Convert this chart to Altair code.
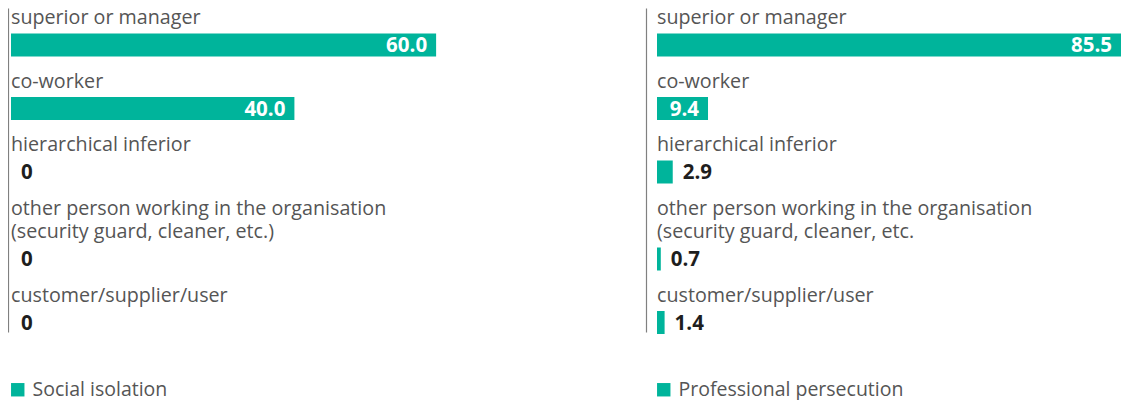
import altair as alt
import pandas as pd

# ---- data ----
series_names = ["Social isolation", "Professional persecution"]

categories_left = [
    "superior or manager",
    "co-worker",
    "hierarchical inferior",
    "other person working in the organisation\n(security guard, cleaner, etc.)",
    "customer/supplier/user",
]
values_left = [60.0, 40.0, 0.0, 0.0, 0.0]

categories_right = [
    "superior or manager",
    "co-worker",
    "hierarchical inferior",
    "other person working in the organisation\n(security guard, cleaner, etc.",
    "customer/supplier/user",
]
values_right = [85.5, 9.4, 2.9, 0.7, 1.4]

TEAL = "#00b49b"
LABEL_FONT = "Open Sans"


def panel(cats, vals, series, width, xmax, axis_offset):
    df = pd.DataFrame({"label": cats, "value": vals})
    df["order"] = range(len(df))
    df["series"] = series

    yaxis = alt.Axis(domain=True, domainColor="#808080", domainWidth=1.2,
                     labels=False, ticks=False, grid=False, title=None,
                     offset=axis_offset)
    yscale = alt.Scale(domain=[3, 327], reverse=True, nice=False, zero=False)
    xscale = alt.Scale(domain=[0, xmax], nice=False, zero=True)

    base = (
        alt.Chart(df)
        .transform_calculate(
            nlines="length(split(datum.label, '\\n'))",
            txt="datum.value == 0 ? '0' : format(datum.value, '.1f')",
            zero="0",
        )
        .transform_calculate(h="23.5 * datum.nlines + 40")
        .transform_window(cum="sum(h)", sort=[alt.SortField("order")], frame=[None, 0])
        .transform_calculate(top="datum.cum - datum.h")
        .transform_calculate(
            lab_y="datum.top + 19",
            bar_top="datum.top + 19 + 23.5 * (datum.nlines - 1) + 9.5",
        )
        .transform_calculate(
            bar_bot="datum.bar_top + 23",
            val_y="datum.bar_top + 18.5",
        )
    )

    labels = base.mark_text(
        align="left", baseline="alphabetic", dx=0, lineBreak="\n", lineHeight=23.5,
        font=LABEL_FONT, fontSize=19.7, color="#555555",
    ).encode(
        x=alt.X("zero:Q", scale=xscale, axis=None),
        y=alt.Y("lab_y:Q", scale=yscale, axis=yaxis),
        text="label:N",
    )

    bars = base.mark_bar(cornerRadius=0).encode(
        x=alt.X("value:Q", scale=xscale, axis=None),
        x2="zero:Q",
        y=alt.Y("bar_top:Q", scale=yscale, axis=yaxis),
        y2="bar_bot:Q",
        color=alt.Color(
            "series:N",
            scale=alt.Scale(range=[TEAL]),
            legend=alt.Legend(
                title=None, orient="none", legendX=-3, legendY=372,
                symbolType="square", symbolSize=180, symbolStrokeWidth=0,
                labelFont=LABEL_FONT, labelFontSize=19.5, labelColor="#555555",
                labelOffset=5, labelLimit=500, padding=0,
            ),
        ),
    )

    inside = base.transform_filter("datum.value >= 5").mark_text(
        align="right", baseline="alphabetic", dx=-9,
        font=LABEL_FONT, fontSize=20.5, fontWeight="bold", color="white",
    ).encode(
        x=alt.X("value:Q", scale=xscale, axis=None),
        y=alt.Y("val_y:Q", scale=yscale, axis=yaxis),
        text="txt:N",
    )

    outside = base.transform_filter("datum.value < 5").mark_text(
        align="left", baseline="alphabetic", dx=10,
        font=LABEL_FONT, fontSize=20.5, fontWeight="bold", color="#1e1e1e",
    ).encode(
        x=alt.X("value:Q", scale=xscale, axis=None),
        y=alt.Y("val_y:Q", scale=yscale, axis=yaxis),
        text="txt:N",
    )

    return alt.layer(bars, labels, inside, outside).properties(width=width, height=324)


left = panel(categories_left, values_left, series_names[0], 615, 86.8, 3)
right = panel(categories_right, values_right, series_names[1], 464, 85.5, 11)

chart = (
    alt.hconcat(left, right, spacing=20)
    .resolve_scale(color="independent")
    .properties(padding={"left": 0, "top": 0, "right": 0, "bottom": 6}, background="white")
    .configure_view(strokeWidth=0)
)

chart.save("out.html", embed_options={"renderer": "svg", "actions": False})
